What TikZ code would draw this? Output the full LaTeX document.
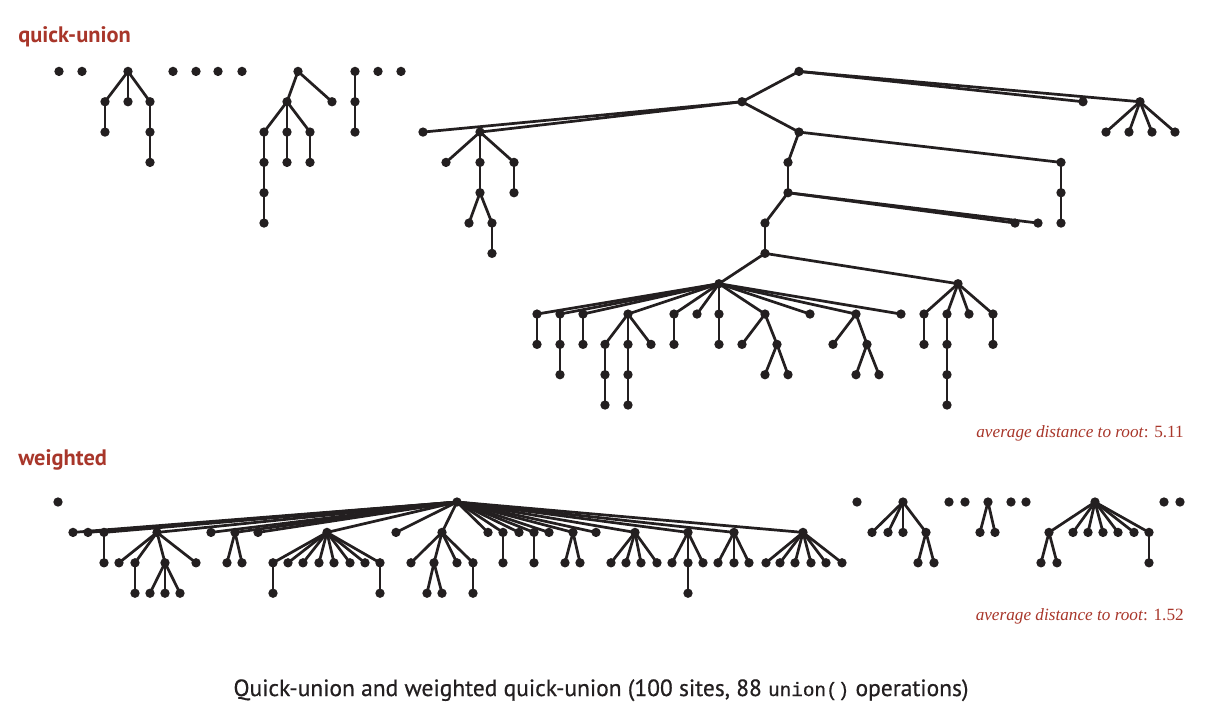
\documentclass[tikz,border=0pt]{standalone}
\usepackage{fontspec}
\setmainfont{Liberation Serif}
\newfontfamily\capfont{PT Sans}
\newfontfamily\capfontd[FakeBold=0.6]{PT Sans}
\newfontfamily\monofont[FakeBold=0.6]{Liberation Mono}
\definecolor{ink}{HTML}{231F20}
\definecolor{redlab}{RGB}{168,54,42}
\begin{document}
\begin{tikzpicture}[x=0.75pt,y=-0.75pt,
  dot/.style={circle,fill=ink,inner sep=0pt,minimum size=7pt},
  edge/.style={draw=ink,line width=2.05pt},
  title/.style={text=redlab,font=\capfont\bfseries\fontsize{16.8}{19}\selectfont,anchor=base west,inner sep=0pt},
  avg/.style={text=redlab,font=\fontsize{12.9}{15}\selectfont,anchor=base east,inner sep=0pt}]
\useasboundingbox (0,0) rectangle (1222,726);
% ---------- quick-union nodes ----------
\foreach \x/\r in {59/1,82/1,128/1,105/2,128/2,150/2,105/3,150/3,150/4,
  173/1,196/1,218/1,242/1,
  298/1,287/2,332/2,264/3,287/3,310/3,264/4,264/5,264/6,287/4,310/4,
  355/1,355/2,355/3,378/1,401/1,
  799/1,742/2,1083/2,1140/2,1106/3,1129/3,1152/3,1175/3,
  423/3,480/3,446/4,480/4,514/4,480/5,514/5,469/6,492/6,492/7,
  799/3,788/4,788/5,765/6,765/7,1061/4,1061/5,1061/6,1015/6,1038/6,
  719/8,958/8,
  537/9,560/9,583/9,628/9,674/9,697/9,719/9,765/9,810/9,856/9,901/9,
  537/10,560/10,560/11,583/10,605/10,605/11,605/12,628/10,628/11,628/12,651/10,
  674/10,719/10,742/10,777/10,765/11,788/11,833/10,867/10,856/11,879/11,
  924/9,947/9,969/9,993/9,924/10,947/10,947/11,947/12,993/10}
  \node[dot] (q\x-\r) at (\x,{71.4+30.33*(\r-1)}) {};
% ---------- quick-union edges ----------
\foreach \a/\b in {128-1/105-2,128-1/128-2,128-1/150-2,105-2/105-3,150-2/150-3,150-3/150-4,
  298-1/287-2,298-1/332-2,287-2/264-3,287-2/287-3,287-2/310-3,264-3/264-4,264-4/264-5,264-5/264-6,
  287-3/287-4,310-3/310-4,355-1/355-2,355-2/355-3,
  799-1/742-2,799-1/1083-2,799-1/1140-2,
  1140-2/1106-3,1140-2/1129-3,1140-2/1152-3,1140-2/1175-3,
  742-2/423-3,742-2/480-3,742-2/799-3,
  480-3/446-4,480-3/480-4,480-3/514-4,480-4/480-5,480-5/469-6,480-5/492-6,492-6/492-7,514-4/514-5,
  799-3/788-4,799-3/1061-4,1061-4/1061-5,1061-5/1061-6,
  788-4/788-5,788-5/765-6,788-5/1015-6,788-5/1038-6,765-6/765-7,765-7/719-8,765-7/958-8,
  719-8/537-9,719-8/560-9,719-8/583-9,719-8/628-9,719-8/674-9,719-8/697-9,719-8/719-9,
  719-8/765-9,719-8/810-9,719-8/856-9,719-8/901-9,
  537-9/537-10,560-9/560-10,560-10/560-11,583-9/583-10,
  628-9/605-10,628-9/628-10,628-9/651-10,605-10/605-11,605-11/605-12,628-10/628-11,628-11/628-12,
  674-9/674-10,719-9/719-10,765-9/742-10,765-9/777-10,777-10/765-11,777-10/788-11,
  856-9/833-10,856-9/867-10,867-10/856-11,867-10/879-11,
  958-8/924-9,958-8/947-9,958-8/969-9,958-8/993-9,924-9/924-10,
  947-9/947-10,947-10/947-11,947-11/947-12,993-9/993-10}
  \draw[edge] (q\a.center) -- (q\b.center);
% ---------- weighted nodes ----------
\foreach \x/\r in {58/1,457/1,857/1,903/1,949/1,965/1,988/1,1011/1,1026/1,1095/1,1164/1,1180/1,
  73/2,88/2,104/2,157/2,211/2,235/2,258/2,327/2,396/2,442/2,488/2,503/2,519/2,534/2,549/2,
  573/2,596/2,635/2,688/2,734/2,803/2,
  104/3,119/3,135/3,165/3,196/3,227/3,242/3,273/3,288/3,303/3,319/3,334/3,350/3,365/3,380/3,
  411/3,434/3,457/3,473/3,503/3,534/3,565/3,580/3,611/3,626/3,641/3,657/3,672/3,688/3,703/3,
  718/3,734/3,749/3,766/3,780/3,795/3,811/3,826/3,842/3,
  135/4,150/4,165/4,180/4,273/4,380/4,427/4,442/4,473/4,688/4,
  872/2,888/2,903/2,926/2,980/2,995/2,1049/2,1073/2,1088/2,1103/2,1118/2,1134/2,1149/2,
  918/3,934/3,1041/3,1057/3,1149/3}
  \node[dot] (w\x-\r) at (\x,{502+30.4*(\r-1)}) {};
% ---------- weighted edges ----------
\foreach \c in {73,88,104,157,211,235,258,327,396,442,488,503,519,534,549,573,596,635,688,734,803}
  \draw[edge] (w457-1.center) -- (w\c-2.center);
\foreach \a/\b in {104-2/104-3,157-2/119-3,157-2/135-3,157-2/165-3,157-2/196-3,135-3/135-4,
  165-3/150-4,165-3/165-4,165-3/180-4,235-2/227-3,235-2/242-3,
  327-2/273-3,327-2/288-3,327-2/303-3,327-2/319-3,327-2/334-3,327-2/350-3,327-2/365-3,327-2/380-3,
  273-3/273-4,380-3/380-4,
  442-2/411-3,442-2/434-3,442-2/457-3,442-2/473-3,434-3/427-4,434-3/442-4,473-3/473-4,
  503-2/503-3,534-2/534-3,573-2/565-3,573-2/580-3,
  635-2/611-3,635-2/626-3,635-2/641-3,635-2/657-3,
  688-2/672-3,688-2/688-3,688-2/703-3,688-3/688-4,
  734-2/718-3,734-2/734-3,734-2/749-3,
  803-2/766-3,803-2/780-3,803-2/795-3,803-2/811-3,803-2/826-3,803-2/842-3,
  903-1/872-2,903-1/888-2,903-1/903-2,903-1/926-2,926-2/918-3,926-2/934-3,
  988-1/980-2,988-1/995-2,
  1095-1/1049-2,1095-1/1073-2,1095-1/1088-2,1095-1/1103-2,1095-1/1118-2,1095-1/1134-2,1095-1/1149-2,
  1049-2/1041-3,1049-2/1057-3,1149-2/1149-3}
  \draw[edge] (w\a.center) -- (w\b.center);
% ---------- labels ----------
\node[title] (tq) at (18,42) {quick-union};
\node[title] (tw) at (18,465) {weighted};
\node[avg] (aq) at (1184,437) {\itshape average distance to root\/\upshape: 5.11};
\node[avg] (aw) at (1184,620) {\itshape average distance to root\/\upshape: 1.52};
\node[font=\capfontd\fontsize{17.6}{20}\selectfont,text=ink,anchor=base,inner sep=0pt] (cap) at (601,696)
  {Quick-union and weighted quick-union (100 sites, 88 {\monofont\fontsize{14.5}{16}\selectfont union()} operations)};
\end{tikzpicture}
\end{document}
